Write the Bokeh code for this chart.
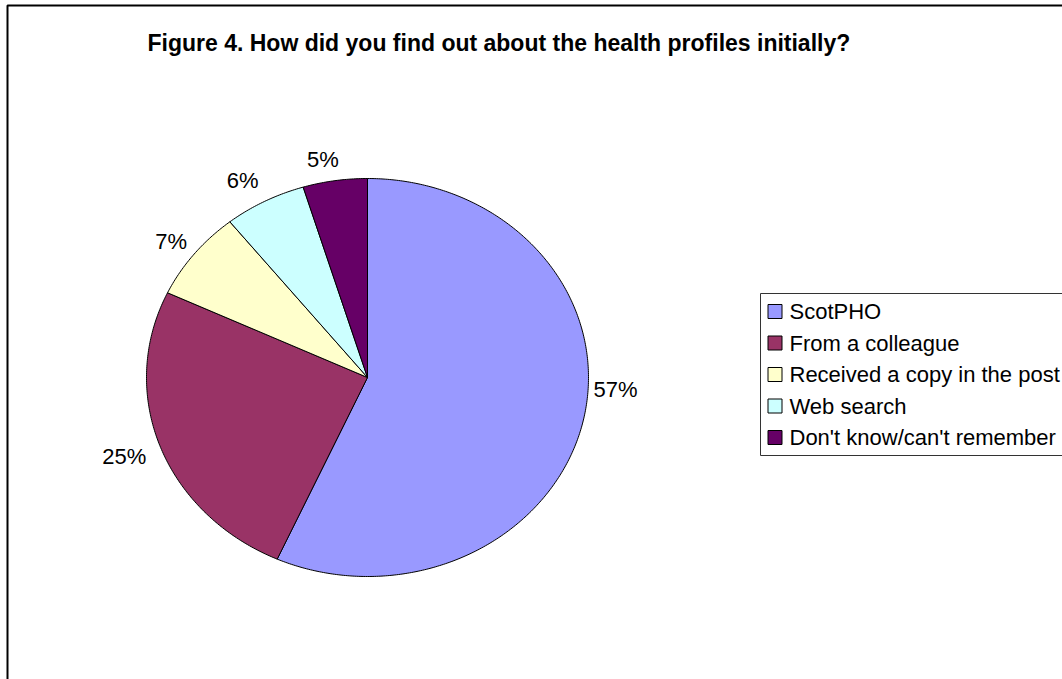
import numpy as np
from bokeh.plotting import figure
from bokeh.models import ColumnDataSource, Range1d
from bokeh.core.properties import value
from bokeh.embed import file_html
from bokeh.resources import INLINE

# ---- data ----
categories = ["ScotPHO", "From a colleague", "Received a copy in the post",
              "Web search", "Don't know/can't remember"]
percent = [56.7, 25.3, 7.3, 6.0, 4.7]
colors = ["#9999FF", "#993366", "#FFFFCC", "#CCFFFF", "#660066"]
title_text = "Figure 4. How did you find out about the health profiles initially?"

# ---- layout / style ----
W, H = 1062, 679
CX, CY, RX, RY = 367, 377, 221, 199
label_nudge = [(32, -30), (-36, 10), (-23, -13), (-22, -21), (-12, -21)]
FONT = "Liberation Sans"

p = figure(width=W, height=H, x_range=Range1d(0, W), y_range=Range1d(H, 0),
           output_backend="svg", toolbar_location=None, min_border=0,
           x_axis_type=None, y_axis_type=None, outline_line_color=None,
           background_fill_color="white", border_fill_color="white")
p.grid.visible = False

# chart border (left and top edges visible in the window)
p.line(x=[7, 7, W + 10], y=[H + 10, 5, 5], line_color="#000000", line_width=2)

# pie slices (clockwise from 12 o'clock)
vals = np.array(percent, dtype=float)
frac = vals / vals.sum()
ends = np.cumsum(frac) * 2 * np.pi
starts = ends - frac * 2 * np.pi
xs, ys = [], []
for s, e in zip(starts, ends):
    t = np.linspace(s, e, max(int((e - s) / 0.01), 8))
    xs.append([CX] + list(CX + RX * np.sin(t)) + [CX])
    ys.append([CY] + list(CY - RY * np.cos(t)) + [CY])
src = ColumnDataSource(dict(xs=xs, ys=ys, color=colors))
p.patches("xs", "ys", source=src, fill_color="color", line_color="black", line_width=1)

# data labels
mids = (starts + ends) / 2
lx = [CX + RX * np.sin(m) + d[0] for m, d in zip(mids, label_nudge)]
ly = [CY - RY * np.cos(m) + d[1] for m, d in zip(mids, label_nudge)]
labels = ["%d%%" % round(v) for v in percent]
p.text(x=lx, y=ly, text=labels, text_font=value(FONT), text_font_size="22px",
       text_align="center", text_baseline="middle", text_color="black")

# title
p.text(x=[147], y=[42], text=[title_text], text_font=value(FONT),
       text_font_size="23px", text_font_style="bold", text_align="left",
       text_baseline="middle", text_color="black")

# legend
LX, LY, ROW, PAD = 760, 293, 31.5, 18
n = len(categories)
p.quad(left=[LX], right=[W + 20], top=[LY], bottom=[LY + 2 * PAD + ROW * (n - 1)],
       fill_color="white", line_color="#333333", line_width=1)
ky = [LY + PAD + ROW * i for i in range(n)]
p.rect(x=[LX + 14.5] * n, y=ky, width=14, height=14, width_units="screen",
       height_units="screen", fill_color=colors, line_color="black", line_width=1)
p.text(x=[LX + 29] * n, y=ky, text=categories, text_font=value(FONT),
       text_font_size="22px", text_align="left", text_baseline="middle",
       text_color="black")

open("out.html", "w").write(file_html(p, INLINE))
